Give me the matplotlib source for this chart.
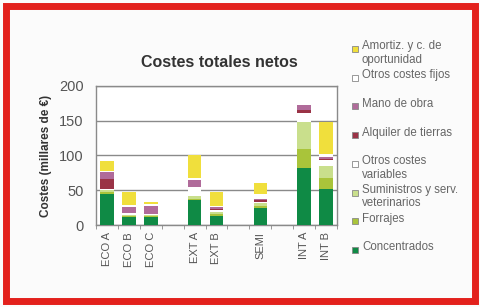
import numpy as np
import matplotlib.pyplot as plt
from matplotlib.patches import Rectangle

plt.rcParams['font.family'] = ['Liberation Sans', 'DejaVu Sans']

# Data (thousands of euros)
groups = ["ECO A", "ECO B", "ECO C", "", "EXT A", "EXT B", "", "SEMI", "", "INT A", "INT B"]
concentrados = [44, 12, 12, 0, 36, 13, 0, 25, 0, 82, 52]
forrajes = [3, 1, 1, 0, 2, 3, 0, 3, 0, 28, 16]
suministros = [3, 2, 1, 0, 4, 3, 0, 3, 0, 38, 17]
otros_var = [2, 3, 2, 0, 13, 2, 0, 2, 0, 13, 8]
alquiler = [14, 0, 0, 0, 0, 2, 0, 3, 0, 4, 2]
mano_obra = [10, 8, 12, 0, 10, 3, 0, 2, 0, 8, 3]
otros_fijos = [2, 3, 2, 0, 2, 2, 0, 6, 0, 0, 4]
amortiz = [14, 19, 3, 0, 33, 20, 0, 16, 0, 0, 46]

series = [
    ("Concentrados", concentrados, "#0f8a45"),
    ("Forrajes", forrajes, "#a9c43a"),
    ("Suministros y serv.\nveterinarios", suministros, "#c9df8c"),
    ("Otros costes\nvariables", otros_var, "#ffffff"),
    ("Alquiler de tierras", alquiler, "#9a3346"),
    ("Mano de obra", mano_obra, "#b06b9a"),
    ("Otros costes fijos", otros_fijos, "#ffffff"),
    ("Amortiz. y c. de\noportunidad", amortiz, "#f0df3c"),
]

W, H = 480, 307
fig = plt.figure(figsize=(W / 100, H / 100), dpi=100)
fig.patch.set_facecolor("#fbfbfb")
fig.patches.append(Rectangle((0.012, 0.018), 0.978, 0.962, transform=fig.transFigure,
                             fill=False, edgecolor="#e3211c", linewidth=5, zorder=10))

ax = fig.add_axes([0.2, 0.267, 0.502, 0.453])
ax.set_facecolor("white")
x = np.arange(len(groups))
bottom = np.zeros(len(groups))
for name, vals, col in series:
    vals = np.array(vals, dtype=float)
    ax.bar(x, vals, 0.62, bottom=bottom, color=col, edgecolor="none", zorder=3)
    bottom += vals

ax.set_xlim(-0.5, len(groups) - 0.5)
ax.set_ylim(0, 200)
ax.set_yticks([0, 50, 100, 150, 200])
ax.yaxis.grid(True, color="#8a8a8a", linewidth=1.0, zorder=0)
ax.set_xticks(x)
ax.set_xticklabels(groups, rotation=90, fontsize=8, color="#555555")
ax.set_xticks(np.arange(-0.5, len(groups)), minor=True)
ax.tick_params(axis="x", which="major", length=0, pad=5)
ax.tick_params(axis="x", which="minor", length=3, color="#888888")
ax.tick_params(axis="y", length=0, labelsize=10.5, labelcolor="#555555", pad=9)
for s in ax.spines.values():
    s.set_color("#8a8a8a")
    s.set_linewidth(1.0)

ax.set_ylabel("Costes (millares de €)", fontsize=8.5, fontweight="bold", color="#333333", labelpad=5)
fig.text(0.458, 0.797, "Costes totales netos", ha="center", va="center",
         fontsize=11.5, fontweight="bold", color="#333333")

# hand-placed legend, evenly spaced first lines as in the original
for i, (name, _, col) in enumerate(series[::-1]):
    yc = 1 - (49 + i * 28.7) / H
    fig.patches.append(Rectangle((352 / W, yc - 3 / H), 6 / W, 6 / H, transform=fig.transFigure,
                                 facecolor=col, edgecolor="#888888", linewidth=0.6))
    fig.text(362 / W, yc + 8.5 / H, name, ha="left", va="top", fontsize=8.3,
             color="#666666", linespacing=1.15)

fig.savefig("out.png", dpi=100, facecolor=fig.get_facecolor())
